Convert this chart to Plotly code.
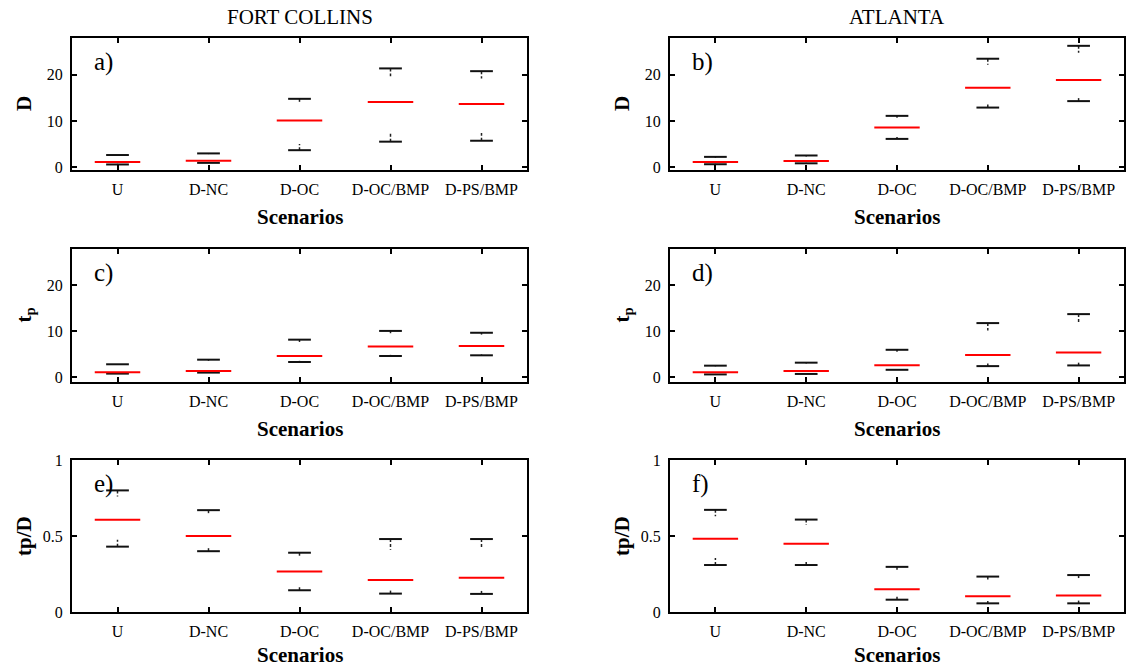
import plotly.graph_objects as go

W, H = 1131, 669

categories = ["U", "D-NC", "D-OC", "D-OC/BMP", "D-PS/BMP"]

# Panel a) Fort Collins, D
a_max = [2.6, 2.95, 14.8, 21.4, 20.8]
a_q3 = [2.4, 2.8, 14.1, 19.7, 19.2]
a_med = [1.1, 1.35, 10.1, 14.1, 13.7]
a_q1 = [0.7, 1.0, 5.0, 7.4, 7.4]
a_min = [0.55, 0.9, 3.65, 5.5, 5.7]

# Panel b) Atlanta, D
b_max = [2.2, 2.5, 11.1, 23.5, 26.3]
b_q3 = [2.0, 2.3, 10.7, 22.2, 24.8]
b_med = [1.1, 1.3, 8.55, 17.2, 18.9]
b_q1 = [0.7, 0.9, 6.5, 13.7, 15.2]
b_min = [0.6, 0.8, 6.1, 12.9, 14.3]

# Panel c) Fort Collins, tp
c_max = [2.75, 3.75, 8.1, 10.0, 9.6]
c_q3 = [2.6, 3.5, 7.6, 9.5, 9.2]
c_med = [1.0, 1.3, 4.55, 6.6, 6.7]
c_q1 = [0.8, 1.0, 3.5, 4.8, 4.9]
c_min = [0.72, 0.94, 3.25, 4.55, 4.7]

# Panel d) Atlanta, tp
d_max = [2.45, 3.1, 5.9, 11.7, 13.65]
d_q3 = [2.3, 2.9, 5.5, 10.1, 11.8]
d_med = [1.0, 1.3, 2.55, 4.75, 5.3]
d_q1 = [0.65, 0.75, 1.7, 2.9, 3.1]
d_min = [0.55, 0.65, 1.55, 2.35, 2.5]

# Panel e) Fort Collins, tp/D
e_max = [0.80, 0.67, 0.39, 0.48, 0.48]
e_q3 = [0.76, 0.64, 0.37, 0.41, 0.425]
e_med = [0.607, 0.50, 0.266, 0.211, 0.225]
e_q1 = [0.475, 0.43, 0.165, 0.141, 0.145]
e_min = [0.43, 0.40, 0.143, 0.121, 0.119]

# Panel f) Atlanta, tp/D
f_max = [0.672, 0.608, 0.297, 0.233, 0.243]
f_q3 = [0.63, 0.573, 0.264, 0.205, 0.211]
f_med = [0.482, 0.449, 0.15, 0.104, 0.108]
f_q1 = [0.355, 0.337, 0.101, 0.073, 0.075]
f_min = [0.309, 0.309, 0.081, 0.057, 0.057]

panels = [
    ("a)", a_max, a_q3, a_med, a_q1, a_min, "<b>D</b>", [0, 10, 20], ["0", "10", "20"], [-0.65, 28.0]),
    ("b)", b_max, b_q3, b_med, b_q1, b_min, "<b>D</b>", [0, 10, 20], ["0", "10", "20"], [-0.65, 28.0]),
    ("c)", c_max, c_q3, c_med, c_q1, c_min, "<b>t<sub>p</sub></b>", [0, 10, 20], ["0", "10", "20"], [-1.1, 27.8]),
    ("d)", d_max, d_q3, d_med, d_q1, d_min, "<b>t<sub>p</sub></b>", [0, 10, 20], ["0", "10", "20"], [-1.1, 27.8]),
    ("e)", e_max, e_q3, e_med, e_q1, e_min, "<b>tp/D</b>", [0, 0.5, 1], ["0", "0.5", "1"], [0, 1]),
    ("f)", f_max, f_q3, f_med, f_q1, f_min, "<b>tp/D</b>", [0, 0.5, 1], ["0", "0.5", "1"], [0, 1]),
]

# pixel boxes of plot areas (left, right, top, bottom)
cols = [(72, 527), (670, 1124)]
rows = [(38, 170), (249, 382), (460, 612)]

FONT = "Liberation Serif, Times New Roman, serif"

def px_x(p):
    return min(1.0, max(0.0, p / W))

def px_y(p):
    return min(1.0, max(0.0, 1 - p / H))

fig = go.Figure()
layout = {}
annotations = []

CAP = 0.125
MED = 0.25

for k, (lab, mx, q3, md, q1, mn, ylab, yt, ytl, yr) in enumerate(panels):
    r, c = divmod(k, 2)
    L, R = cols[c]
    T, B = rows[r]
    sfx = "" if k == 0 else str(k + 1)
    xa, ya = "x" + sfx, "y" + sfx
    pos = list(range(1, len(categories) + 1))

    # dashed whiskers
    wx, wy = [], []
    for i, p in enumerate(pos):
        wx += [p, p, None, p, p, None]
        wy += [mx[i], q3[i], None, mn[i], q1[i], None]
    fig.add_trace(go.Scatter(x=wx, y=wy, mode="lines", xaxis=xa, yaxis=ya,
                             line=dict(color="#222222", width=1.5, dash="3px,2px"),
                             showlegend=False, hoverinfo="skip"))
    # caps
    cx, cy = [], []
    for i, p in enumerate(pos):
        cx += [p - CAP, p + CAP, None, p - CAP, p + CAP, None]
        cy += [mx[i], mx[i], None, mn[i], mn[i], None]
    fig.add_trace(go.Scatter(x=cx, y=cy, mode="lines", xaxis=xa, yaxis=ya,
                             line=dict(color="#111111", width=2),
                             showlegend=False, hoverinfo="skip"))
    # medians
    mxs, mys = [], []
    for i, p in enumerate(pos):
        mxs += [p - MED, p + MED, None]
        mys += [md[i], md[i], None]
    fig.add_trace(go.Scatter(x=mxs, y=mys, mode="lines", xaxis=xa, yaxis=ya,
                             line=dict(color="#ff0000", width=2),
                             showlegend=False, hoverinfo="skip"))

    common = dict(showline=True, linecolor="black", linewidth=2, mirror="ticks",
                  ticks="inside", ticklen=5, tickwidth=1.5, tickcolor="black",
                  showgrid=False, zeroline=False, fixedrange=True, automargin=False,
                  tickfont=dict(family=FONT, size=16, color="black"))
    layout["xaxis" + sfx] = dict(domain=[px_x(L), px_x(R)], anchor=ya, range=[0.5, 5.5],
                                 tickvals=pos, ticktext=categories, ticklabelstandoff=4, **common)
    layout["yaxis" + sfx] = dict(domain=[px_y(B), px_y(T)], anchor=xa, range=yr,
                                 tickvals=yt, ticktext=ytl, ticklabelstandoff=4, **common)

    # panel label
    annotations.append(dict(text=lab, x=px_x(L + 20), y=px_y(T + 24), xref="paper", yref="paper",
                            xanchor="left", yanchor="middle", showarrow=False,
                            font=dict(family=FONT, size=25, color="black")))
    # y label
    annotations.append(dict(text=ylab, x=px_x(L - 48), y=px_y((T + B) / 2), xref="paper", yref="paper",
                            xanchor="center", yanchor="middle", showarrow=False, textangle=-90,
                            font=dict(family=FONT, size=21, color="black")))
    # x label
    annotations.append(dict(text="<b>Scenarios</b>", x=px_x((L + R) / 2), y=px_y(min(B + 47, 655)),
                            xref="paper", yref="paper", xanchor="center", yanchor="middle",
                            showarrow=False, borderpad=0,
                            font=dict(family=FONT, size=21, color="black")))

for title, (L, R) in zip(["FORT COLLINS", "ATLANTA"], cols):
    annotations.append(dict(text=title, x=px_x((L + R) / 2), y=px_y(17), xref="paper", yref="paper",
                            xanchor="center", yanchor="middle", showarrow=False,
                            font=dict(family=FONT, size=21, color="black")))

fig.update_layout(width=W, height=H, margin=dict(l=0, r=0, t=0, b=0),
                  paper_bgcolor="white", plot_bgcolor="white",
                  annotations=annotations, **layout)

fig.write_html("out.html")
